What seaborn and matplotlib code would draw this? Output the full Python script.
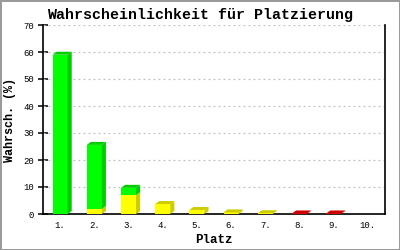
import matplotlib
matplotlib.use("Agg")
import matplotlib.pyplot as plt
from matplotlib.patches import Polygon
import seaborn as sns
import pandas as pd
import numpy as np

places = ["1.", "2.", "3.", "4.", "5.", "6.", "7.", "8.", "9.", "10."]
green = [59.0, 23.7, 2.7, 0.0, 0.0, 0.0, 0.0, 0.0, 0.0, 0.0]
yellow = [0.0, 1.9, 7.0, 3.7, 1.5, 0.6, 0.3, 0.0, 0.0, 0.0]
red = [0.0, 0.0, 0.0, 0.0, 0.0, 0.0, 0.0, 0.2, 0.2, 0.0]
yticks = [0, 10, 20, 30, 40, 50, 60, 70]

sns.set_theme(style="white")
plt.rcParams['font.family'] = ['Liberation Mono', 'DejaVu Sans Mono']
plt.rcParams['text.color'] = 'black'
plt.rcParams['axes.labelcolor'] = 'black'
plt.rcParams['xtick.color'] = 'black'
plt.rcParams['ytick.color'] = 'black'

df = pd.DataFrame({"Platz": places, "green": green, "yellow": yellow, "red": red})
df["gy"] = df["green"] + df["yellow"]

fig = plt.figure(figsize=(4, 2.5), dpi=100, facecolor="white",
                 edgecolor="#9a9a9a", linewidth=2)
ax = fig.add_axes([0.1075, 0.144, 0.855, 0.756])

W = 0.44
C_G, C_GD = "#00ff00", "#00cc00"
C_Y, C_YD = "#ffff00", "#cccc00"
C_R, C_RD = "#ee0000", "#cc0000"

sns.barplot(data=df, x="Platz", y="gy", color=C_G, width=W, saturation=1,
            ax=ax, linewidth=0, zorder=3)
sns.barplot(data=df, x="Platz", y="yellow", color=C_Y, width=W, saturation=1,
            ax=ax, linewidth=0, zorder=3)
sns.barplot(data=df, x="Platz", y="red", color=C_R, width=W, saturation=1,
            ax=ax, linewidth=0, zorder=3)

dx, dy = 0.12, 1.1
for i in range(len(places)):
    segs = []
    base = 0.0
    for val, dark in ((red[i], C_RD), (yellow[i], C_YD), (green[i], C_GD)):
        if val > 0:
            segs.append((base, base + val, dark))
            base += val
    for k, (y0, y1, dark) in enumerate(segs):
        xr = i + W / 2
        side = Polygon([(xr, y0), (xr + dx, y0 + dy), (xr + dx, y1 + dy), (xr, y1)],
                       closed=True, facecolor=dark, edgecolor="none", zorder=3)
        ax.add_patch(side)
        if k == len(segs) - 1:
            xl = i - W / 2
            top = Polygon([(xl, y1), (xl + dx, y1 + dy), (xr + dx, y1 + dy), (xr, y1)],
                          closed=True, facecolor=dark, edgecolor="none", zorder=3)
            ax.add_patch(top)

ax.set_xlim(-0.5, len(places) - 0.5)
ax.set_ylim(0, 70)
ax.set_yticks(yticks)
ax.set_yticklabels([str(t) for t in yticks], fontsize=6.5)
ax.tick_params(axis="y", direction="inout", length=7, width=1.1, color="black", pad=3,
               left=True)
ax.tick_params(axis="x", length=0, labelsize=6.5, pad=5)
for t in yticks[1:]:
    ax.axhline(t, color="#c0c0c0", linewidth=0.9, linestyle=(0, (1.5, 2.5)), zorder=1)

for s in ("left", "bottom", "right"):
    ax.spines[s].set_visible(True)
    ax.spines[s].set_color("black")
    ax.spines[s].set_linewidth(1.2)
ax.spines["top"].set_visible(False)

ax.set_xlabel("Platz", fontsize=9, fontweight="bold", labelpad=3)
ax.set_ylabel("Wahrsch. (%)", fontsize=8.5, fontweight="bold", labelpad=5)
fig.suptitle("Wahrscheinlichkeit für Platzierung", fontsize=10.8, fontweight="bold",
             x=0.5, y=0.97)

fig.savefig("out.png", dpi=100, facecolor="white", edgecolor=fig.get_edgecolor())
